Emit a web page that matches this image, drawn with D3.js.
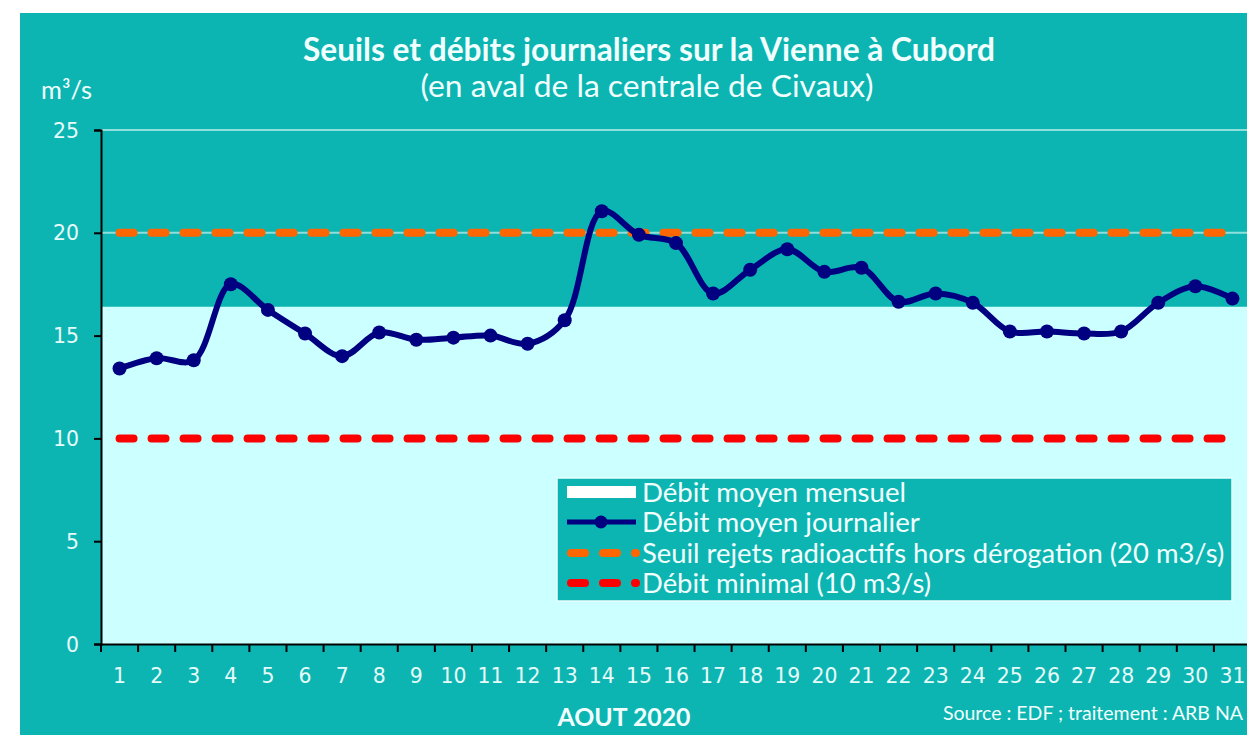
<!DOCTYPE html>
<html><head><meta charset="utf-8">
<script src="https://cdn.jsdelivr.net/npm/d3@7"></script>
<style>html,body{margin:0;padding:0;background:#fff;overflow:hidden}</style>
</head><body>
<svg id="c" width="1247" height="735"></svg>
<script>
// ---- data ----
const days = d3.range(1, 32).map(String);
const dailyFlow = [13.4,13.9,13.8,17.5,16.25,15.1,14.0,15.15,14.8,14.9,15.0,14.6,15.75,21.05,19.9,19.5,17.05,18.2,19.2,18.1,18.3,16.65,17.05,16.6,15.2,15.2,15.1,15.2,16.6,17.4,16.8];
const monthlyMean = 16.4;
const thresholdRadio = 20;
const minimalFlow = 10;
const yTicks = [0,5,10,15,20,25];
const titleText = "Seuils et débits journaliers sur la Vienne à Cubord";
const subtitleText = "(en aval de la centrale de Civaux)";
const unitText = "m³/s";
const monthLabel = "AOUT 2020";
const sourceText = "Source : EDF ; traitement : ARB NA";
const legendLabels = ["Débit moyen mensuel","Débit moyen journalier","Seuil rejets radioactifs hors dérogation (20 m3/s)","Débit minimal (10 m3/s)"];

// ---- style ----
const TEAL = "#0cb5b1", CYAN = "#ccffff", NAVY = "#000080", ORANGE = "#ff6600", RED = "#ff0000", TXT = "#f2ffff";
const svg = d3.select("#c");
const FONT = "Lato, 'Open Sans', sans-serif";

svg.append("rect").attr("x",20).attr("y",13).attr("width",1260).attr("height",740).attr("fill",TEAL);

const L = 101, R = 1251, T = 130, B = 644;
const x = d3.scaleBand().domain(days).range([L, R]);
const y = d3.scaleLinear().domain([0,25]).range([B, T]);
const cx = d => x(d) + x.bandwidth()/2;

// gridlines
svg.append("g").selectAll("line").data(yTicks.filter(v=>v>0)).join("line")
  .attr("x1",L).attr("x2",R).attr("y1",d=>y(d)).attr("y2",d=>y(d))
  .attr("stroke","#8fe0dc").attr("stroke-width",2);

// monthly mean area
svg.append("path")
  .attr("d", d3.area().x(d=>d).y0(y(0)).y1(y(monthlyMean))([L, R]))
  .attr("fill", CYAN);

// threshold lines
function hline(v, color){
  svg.append("path")
    .attr("d", d3.line().x(d=>cx(d)).y(()=>y(v))(days))
    .attr("fill","none").attr("stroke",color).attr("stroke-width",8)
    .attr("stroke-linecap","round").attr("stroke-dasharray","14,18");
}
hline(thresholdRadio, ORANGE);
hline(minimalFlow, RED);

// daily flow
const pts = days.map((d,i)=>[cx(d), y(dailyFlow[i])]);
svg.append("path").attr("d", d3.line().curve(d3.curveCatmullRom.alpha(0.5))(pts))
  .attr("fill","none").attr("stroke",NAVY).attr("stroke-width",6).attr("stroke-linejoin","round");
svg.append("g").selectAll("circle").data(pts).join("circle")
  .attr("cx",d=>d[0]).attr("cy",d=>d[1]).attr("r",7).attr("fill",NAVY);

// fit-text helper
function fit(sel, w){
  const n = sel.node(); let fs = +sel.attr("font-size");
  for(let k=0;k<3;k++){ const cw = n.getComputedTextLength(); fs = fs*w/cw; sel.attr("font-size",fs); }
  return fs;
}

// tick font size calibrated so that "20" is ~26px wide
const probe = svg.append("text").attr("font-family","'DejaVu Sans', sans-serif").attr("font-size",20).text("20");
const tickFS = fit(probe, 26);
probe.remove();

// axes
const yAxis = svg.append("g").attr("transform",`translate(${L},0)`)
  .call(d3.axisLeft(y).tickValues(yTicks).tickSize(7).tickPadding(15));
const xAxis = svg.append("g").attr("transform",`translate(0,${B})`)
  .call(d3.axisBottom(x).tickSize(0).tickPadding(24));
// band-boundary ticks
xAxis.append("g").selectAll("line").data(days).join("line")
  .attr("x1",d=>x(d)).attr("x2",d=>x(d)).attr("y1",0).attr("y2",8)
  .attr("stroke","#000").attr("stroke-width",2);
[yAxis, xAxis].forEach(g=>{
  g.attr("font-size",tickFS).attr("font-family","'DejaVu Sans', sans-serif");
  g.select(".domain").attr("stroke","#000").attr("stroke-width",2);
  g.selectAll(".tick line").attr("stroke","#000").attr("stroke-width",2);
  g.selectAll("text").attr("fill","#e6fbfb").attr("font-size",tickFS).attr("font-family","'DejaVu Sans', sans-serif");
});
yAxis.selectAll("text").attr("dy","0.35em");
xAxis.selectAll(".tick text").attr("dy","0.71em");

// titles
const t1 = svg.append("text").attr("x",649).attr("y",61).attr("text-anchor","middle")
  .attr("font-family",FONT).attr("font-weight","bold").attr("font-size",26).attr("fill",TXT).text(titleText);
fit(t1, 692);
const t2 = svg.append("text").attr("x",647).attr("y",97).attr("text-anchor","middle")
  .attr("font-family",FONT).attr("font-size",24).attr("fill",TXT).text(subtitleText);
fit(t2, 453);
const t3 = svg.append("text").attr("x",41).attr("y",99)
  .attr("font-family",FONT).attr("font-size",20).attr("fill",TXT).text(unitText);
fit(t3, 51);
const t4 = svg.append("text").attr("x",624).attr("y",726).attr("text-anchor","middle")
  .attr("font-family",FONT).attr("font-weight","bold").attr("font-size",21).attr("fill",TXT).text(monthLabel);
fit(t4, 133);
const t5 = svg.append("text").attr("x",1243).attr("y",720).attr("text-anchor","end")
  .attr("font-family",FONT).attr("font-size",16).attr("fill",TXT).text(sourceText);
fit(t5, 300);

// legend
const lg = svg.append("g");
lg.append("rect").attr("x",557).attr("y",478).attr("width",675).attr("height",123)
  .attr("fill",TEAL).attr("stroke","#e8ffff").attr("stroke-width",1.5);
const rowY = [492,522,553,583];
lg.append("rect").attr("x",567).attr("y",rowY[0]-6).attr("width",69).attr("height",12).attr("fill","#fff");
lg.append("line").attr("x1",567).attr("x2",636).attr("y1",rowY[1]).attr("y2",rowY[1]).attr("stroke",NAVY).attr("stroke-width",5);
lg.append("circle").attr("cx",601).attr("cy",rowY[1]).attr("r",6.5).attr("fill",NAVY);
[[ORANGE,rowY[2]],[RED,rowY[3]]].forEach(([c,yy])=>{
  lg.append("line").attr("x1",571).attr("x2",636).attr("y1",yy).attr("y2",yy)
    .attr("stroke",c).attr("stroke-width",8).attr("stroke-linecap","round").attr("stroke-dasharray","14,18");
});
const lw = [264, 278, 582, 289];
legendLabels.forEach((s,i)=>{
  const t = lg.append("text").attr("x",642).attr("y",rowY[i]).attr("dy","0.35em")
    .attr("font-family",FONT).attr("font-size",21).attr("fill",TXT).text(s);
  fit(t, lw[i]);
});
</script>
</body></html>
